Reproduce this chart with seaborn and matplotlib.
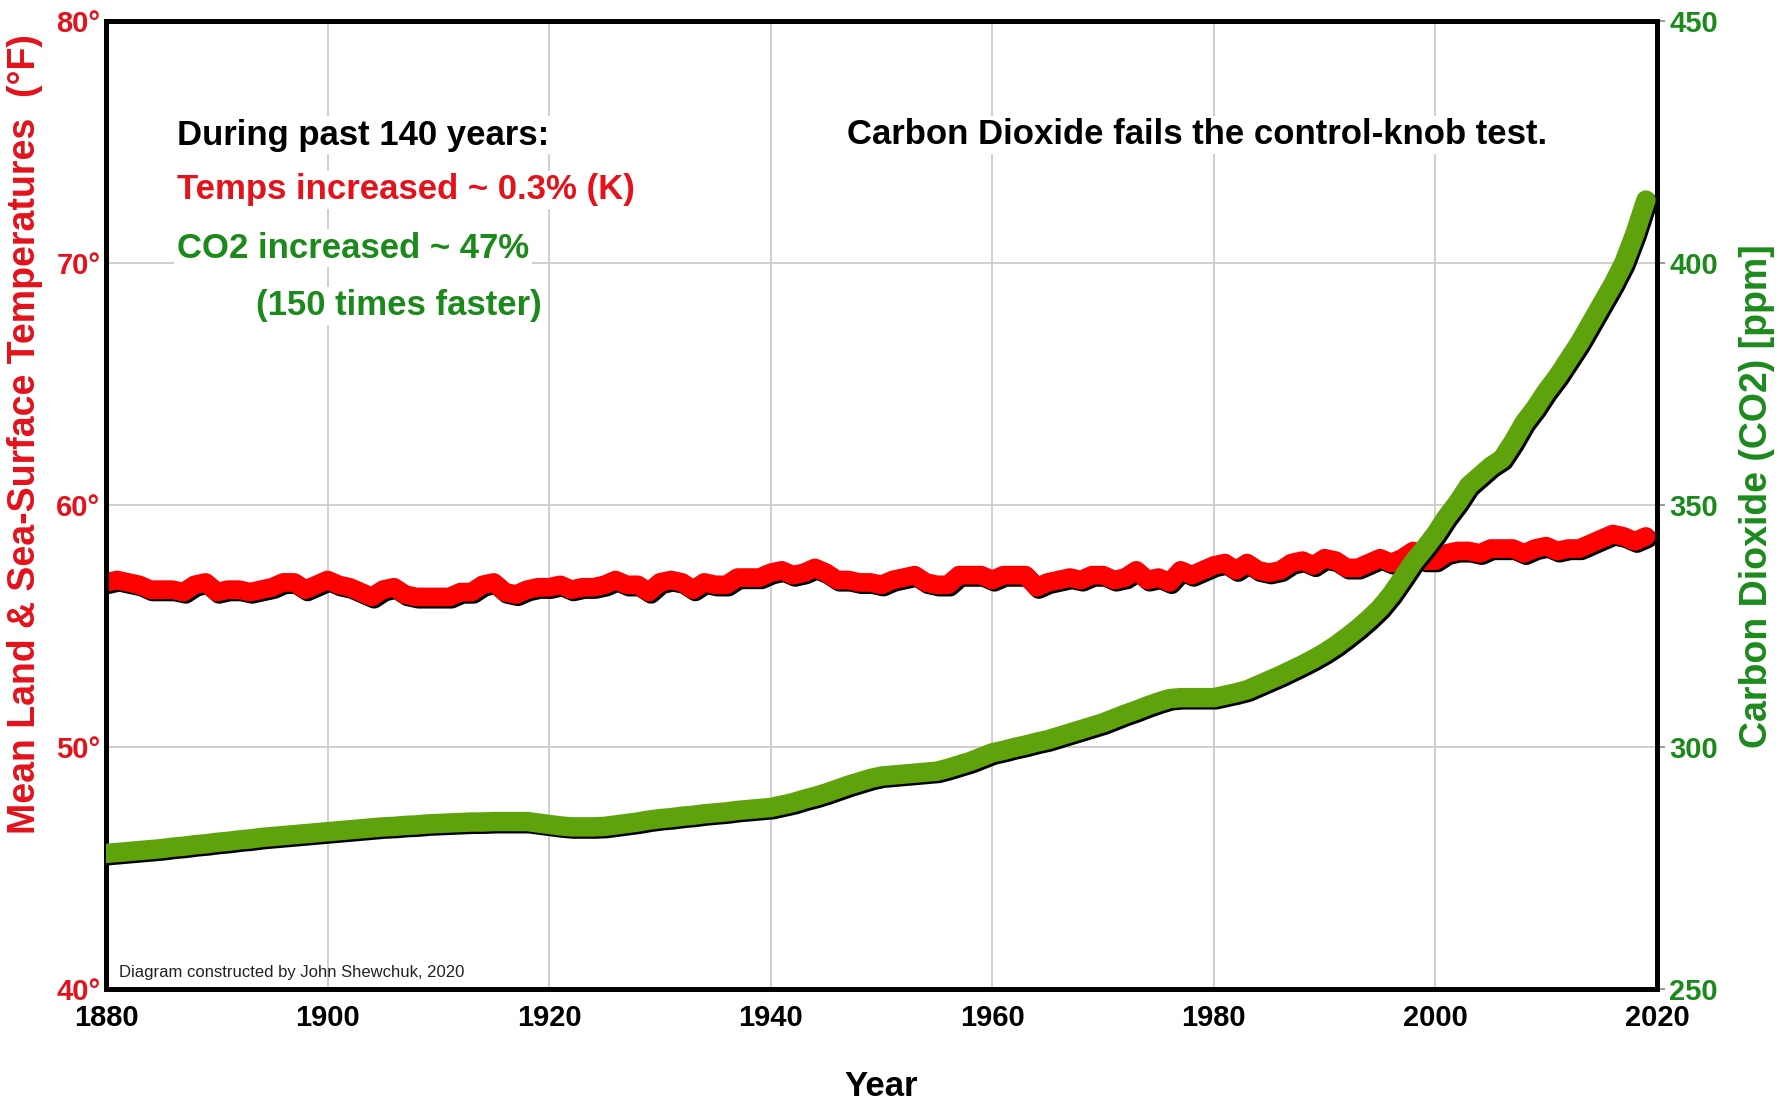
import numpy as np
import pandas as pd
import matplotlib
matplotlib.use('Agg')
import matplotlib.pyplot as plt
import matplotlib.patheffects as pe
import seaborn as sns

# data
years = list(range(1880, 2020))

temps_f = [
    56.8, 56.9, 56.8, 56.7, 56.5, 56.5, 56.5, 56.4, 56.7, 56.8,  # 1880s
    56.4, 56.5, 56.5, 56.4, 56.5, 56.6, 56.8, 56.8, 56.5, 56.7,  # 1890s
    56.9, 56.7, 56.6, 56.4, 56.2, 56.5, 56.6, 56.3, 56.2, 56.2,  # 1900s
    56.2, 56.2, 56.4, 56.4, 56.7, 56.8, 56.4, 56.3, 56.5, 56.6,  # 1910s
    56.6, 56.7, 56.5, 56.6, 56.6, 56.7, 56.9, 56.7, 56.7, 56.4,  # 1920s
    56.8, 56.9, 56.8, 56.5, 56.8, 56.7, 56.7, 57.0, 57.0, 57.0,  # 1930s
    57.2, 57.3, 57.1, 57.2, 57.4, 57.2, 56.9, 56.9, 56.8, 56.8,  # 1940s
    56.7, 56.9, 57.0, 57.1, 56.8, 56.7, 56.7, 57.1, 57.1, 57.1,  # 1950s
    56.9, 57.1, 57.1, 57.1, 56.6, 56.8, 56.9, 57.0, 56.9, 57.1,  # 1960s
    57.1, 56.9, 57.0, 57.3, 56.9, 57.0, 56.8, 57.3, 57.1, 57.3,  # 1970s
    57.5, 57.6, 57.3, 57.6, 57.3, 57.2, 57.3, 57.6, 57.7, 57.5,  # 1980s
    57.8, 57.7, 57.4, 57.4, 57.6, 57.8, 57.6, 57.8, 58.1, 57.7,  # 1990s
    57.7, 58.0, 58.1, 58.1, 58.0, 58.2, 58.2, 58.2, 58.0, 58.2,  # 2000s
    58.3, 58.1, 58.2, 58.2, 58.4, 58.6, 58.8, 58.7, 58.5, 58.7,  # 2010s
]

co2_ppm = [
    278.0, 278.2, 278.4, 278.6, 278.8, 279.0, 279.3, 279.5, 279.8, 280.0,
    280.3, 280.5, 280.8, 281.0, 281.3, 281.5, 281.7, 281.9, 282.1, 282.3,
    282.5, 282.7, 282.9, 283.1, 283.3, 283.5, 283.6, 283.8, 283.9, 284.1,
    284.2, 284.3, 284.4, 284.5, 284.5, 284.6, 284.6, 284.6, 284.6, 284.3,
    284.0, 283.7, 283.5, 283.5, 283.5, 283.6, 283.9, 284.2, 284.5, 284.9,
    285.2, 285.4, 285.7, 285.9, 286.2, 286.4, 286.6, 286.9, 287.1, 287.3,
    287.5, 288.0, 288.5, 289.2, 289.8, 290.5, 291.3, 292.1, 292.8, 293.5,
    294.0, 294.2, 294.4, 294.6, 294.8, 295.0, 295.6, 296.3, 297.0, 297.9,
    298.8, 299.3, 299.9, 300.4, 301.0, 301.5, 302.2, 302.9, 303.6, 304.3,
    305.0, 305.9, 306.8, 307.6, 308.5, 309.3, 310.0, 310.2, 310.2, 310.2,
    310.2, 310.7, 311.2, 311.8, 312.8, 313.8, 314.8, 315.9, 317.0, 318.2,
    319.5, 321.0, 322.7, 324.5, 326.5, 328.7, 331.5, 334.8, 338.2, 341.0,
    344.0, 347.5, 350.5, 354.0, 356.0, 358.0, 359.5, 363.0, 367.0, 370.0,
    373.5, 376.5, 380.0, 383.5, 387.5, 391.5, 395.5, 400.0, 406.0, 413.0,
]

x_ticks = [1880, 1900, 1920, 1940, 1960, 1980, 2000, 2020]
temp_ticks = [40, 50, 60, 70, 80]
co2_ticks = [250, 300, 350, 400, 450]

RED = '#FF0000'
RED_TXT = '#E3121B'
GREEN = '#5EA30C'
GREEN_TXT = '#1B8A1B'

df = pd.DataFrame({'year': years, 'temp': temps_f, 'co2': co2_ppm})

sns.set_style('white')
plt.rcParams['font.family'] = ['Liberation Sans Narrow', 'Liberation Sans', 'DejaVu Sans']
plt.rcParams['font.weight'] = 'bold'

W, H = 1789, 1107
fig = plt.figure(figsize=(W / 100, H / 100), dpi=100)
ax = fig.add_axes([106 / W, 1 - 989 / H, (1657 - 106) / W, (989 - 21) / H])
ax2 = ax.twinx()

shadow = [pe.SimpleLineShadow(offset=(1.6, -1.6), shadow_color='black', alpha=1.0), pe.Normal()]

sns.lineplot(data=df, x='year', y='temp', ax=ax, color=RED, linewidth=13.5,
             solid_capstyle='round', solid_joinstyle='round', path_effects=shadow, zorder=3)
sns.lineplot(data=df, x='year', y='co2', ax=ax2, color=GREEN, linewidth=14,
             solid_capstyle='round', solid_joinstyle='round', path_effects=shadow, zorder=3)

ax.set_xlim(1880, 2020)
ax.set_ylim(40, 80)
ax2.set_ylim(250, 450)

ax.set_xticks(x_ticks)
ax.set_xticklabels([str(t) for t in x_ticks], fontsize=21, color='black')
ax.set_yticks(temp_ticks)
ax.set_yticklabels([f'{t}°' for t in temp_ticks], fontsize=21, color=RED_TXT)
ax2.set_yticks(co2_ticks)
ax2.set_yticklabels([str(t) for t in co2_ticks], fontsize=21, color=GREEN_TXT)

ax.tick_params(axis='x', length=0, pad=11)
ax.tick_params(axis='y', length=0, pad=4)
ax2.tick_params(axis='y', length=6, width=1.2, color='#888888', pad=3)

ax.grid(True, color='#CCCCCC', linewidth=1.3)
ax2.grid(False)
ax.set_axisbelow(True)

for sp in ax.spines.values():
    sp.set_color('black')
    sp.set_linewidth(3.5)
for sp in ax2.spines.values():
    sp.set_color('black')
    sp.set_linewidth(3.5)

ax.set_xlabel('')
ax.set_ylabel('')
ax2.set_ylabel('')

wide = ['Liberation Sans', 'DejaVu Sans']
fig.text(25 / W, 1 - 434 / H, 'Mean Land & Sea-Surface Temperatures  (°F)', rotation=90,
         ha='center', va='center', fontsize=27, color=RED_TXT, family=wide, weight='bold')
fig.text(1757 / W, 1 - 496 / H, 'Carbon Dioxide (CO2) [ppm]', rotation=90,
         ha='center', va='center', fontsize=27, color=GREEN_TXT, family=wide, weight='bold')
fig.text(881 / W, 1 - 1086 / H, 'Year', ha='center', va='center', fontsize=25, color='black')

box = dict(facecolor='white', edgecolor='none', pad=2)
fig.text(177 / W, 1 - 135 / H, 'During past 140 years:', ha='left', va='center',
         fontsize=25, color='black', bbox=box)
fig.text(177 / W, 1 - 190 / H, 'Temps increased ~ 0.3% (K)', ha='left', va='center',
         fontsize=25, color=RED_TXT, bbox=box)
fig.text(177 / W, 1 - 248 / H, 'CO2 increased ~ 47%', ha='left', va='center',
         fontsize=25, color=GREEN_TXT, bbox=box)
fig.text(256 / W, 1 - 306 / H, '(150 times faster)', ha='left', va='center',
         fontsize=25, color=GREEN_TXT, bbox=box)
fig.text(847 / W, 1 - 135 / H, 'Carbon Dioxide fails the control-knob test.', ha='left',
         va='center', fontsize=25, color='black', bbox=box)
fig.text(119 / W, 1 - 972 / H, 'Diagram constructed by John Shewchuk, 2020', ha='left',
         va='center', fontsize=12, color='#222222', weight='normal')

fig.savefig('out.png', dpi=100)
